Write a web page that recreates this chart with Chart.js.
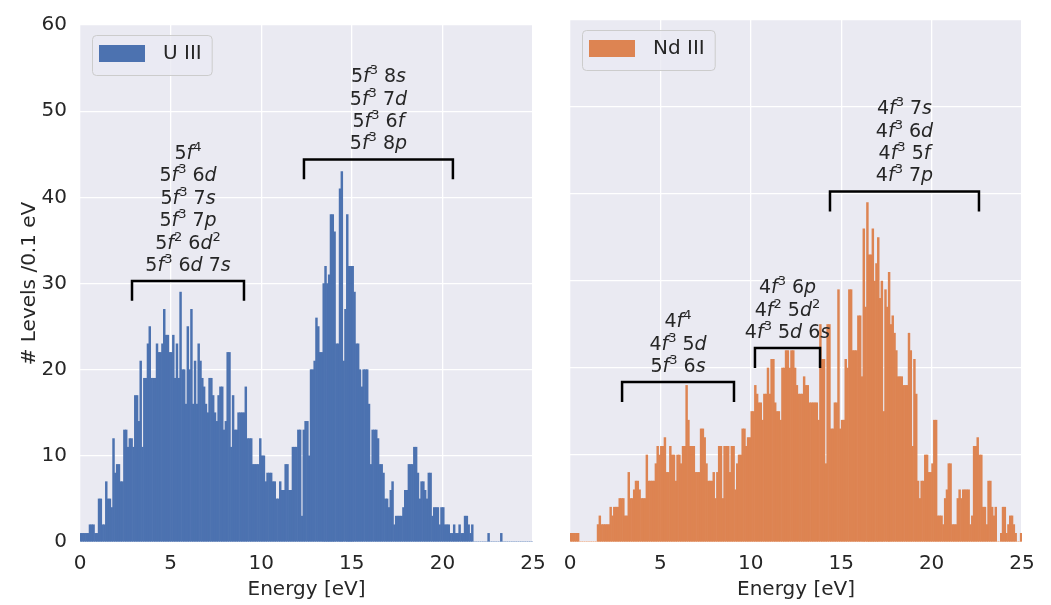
<!DOCTYPE html>
<html>
<head>
<meta charset="utf-8">
<script src="https://cdn.jsdelivr.net/npm/chart.js@4/dist/chart.umd.min.js"></script>
<style>
body{margin:0;background:#fff;width:1051px;height:605px;overflow:hidden;position:relative}
canvas{position:absolute;top:0}
#left{left:0}
#right{left:553px}
</style>
</head>
<body>
<canvas id="left" width="557" height="605"></canvas>
<canvas id="right" width="498" height="605"></canvas>
<script>
// levels per 0.1 eV bin, 0 - 25 eV
const uIII=[1,1,1,1,1,2,2,2,1,1,
5,5,2,2,7,5,5,4,12,8,
9,9,7,7,13,13,11,12,12,11,
17,17,14,21,11,19,19,23,25,19,
19,19,23,22,22,23,27,24,24,22,
22,24,19,23,19,29,20,20,16,25,
20,27,16,21,16,23,21,19,18,16,
15,19,19,17,15,14,17,18,18,13,
14,22,22,11,17,13,13,15,15,15,
15,18,12,12,12,9,9,9,9,12,
10,10,7,8,8,8,7,7,5,5,
7,6,6,9,9,6,6,11,11,11,
13,13,3,13,14,14,10,20,20,21,
26,25,22,22,30,32,30,31,38,38,
36,23,23,41,43,21,27,38,32,32,
32,29,23,23,20,18,20,20,20,16,
9,13,13,13,12,9,9,8,5,5,
4,6,7,2,3,3,3,3,4,6,
6,9,9,9,11,11,8,5,7,7,
6,5,8,8,3,4,4,4,2,4,
4,2,2,2,1,1,2,1,1,2,
1,1,3,3,2,1,2,0,0,0,
0,0,0,0,0,1,0,0,0,0,
0,0,1,0,0,0,0,0,0,0,
0,0,0,0,0,0,0,0,0,0];

const ndIII=[1,1,1,1,1,0,0,0,0,0,
0,0,0,0,0,2,3,2,2,2,
2,2,4,3,4,4,4,5,5,5,
3,3,8,5,5,6,7,7,6,5,
5,5,10,7,7,7,7,9,11,10,
11,11,12,8,8,11,10,10,7,10,
10,9,11,11,18,14,11,11,11,8,
8,8,13,13,12,9,7,7,7,8,
5,8,11,11,5,11,11,11,8,11,
11,6,9,10,10,13,13,11,12,12,
15,15,18,17,16,16,14,17,17,20,
17,21,21,16,15,15,14,20,20,22,
22,20,22,22,20,18,17,17,17,19,
18,18,16,16,16,16,16,14,25,21,
21,9,25,25,13,13,16,16,29,13,
14,14,21,20,29,29,22,22,22,26,
26,19,36,27,39,33,33,36,30,32,
35,28,30,15,29,27,31,25,26,24,
22,19,19,19,18,18,18,24,22,11,
21,17,7,5,7,7,10,10,8,8,
9,14,14,3,3,3,2,5,6,9,
9,2,2,2,5,6,5,6,6,6,
6,2,3,11,11,12,10,10,4,4,
2,7,7,4,3,4,0,0,1,4,
4,1,2,3,3,2,1,0,0,1];

const binWidth=0.1;
const xTicks=[0,5,10,15,20,25];
const yTicks=[0,10,20,30,40,50,60];

// brackets: [from eV, to eV, height]
const uBrackets=[[2.87,9.05,30.3],[12.36,20.58,44.4]];
const uLabels=[["5f^4","5f^3 6d","5f^3 7s","5f^3 7p","5f^2 6d^2","5f^3 6d 7s"],
["5f^3 8s","5f^3 7d","5f^3 6f","5f^3 8p"]];
const ndBrackets=[[2.88,9.07,18.4],[10.23,13.83,22.3],[14.38,22.62,40.3]];
const ndLabels=[["4f^4","4f^3 5d","5f^3 6s"],
["4f^3 6p","4f^2 5d^2","4f^3 5d 6s"],
["4f^3 7s","4f^3 6d","4f^3 5f","4f^3 7p"]];

const FONT="DejaVu Sans";
const TXT="#262626";

function toPoints(vals){
return vals.map((v,i)=>({x:(i+0.5)*binWidth,y:v}));
}

function parseRich(s){
let out=[];
for(let i=0;i<s.length;i++){
let c=s[i];
if(c==="^"){out.push({t:s[i+1],k:"sup"});i++;}
else if(/[a-z]/.test(c)) out.push({t:c,k:"it"});
else out.push({t:c,k:"n"});
}
return out;
}

function fontFor(k,size){
if(k==="sup") return Math.round(size*0.7)+"px "+FONT;
if(k==="it") return "italic "+size+"px "+FONT;
return size+"px "+FONT;
}

function drawRich(ctx,s,cx,y,size){
let parts=parseRich(s);
let w=0;
parts.forEach(p=>{ctx.font=fontFor(p.k,size);p.w=ctx.measureText(p.t).width;w+=p.w;});
let x=cx-w/2;
ctx.textAlign="left";
ctx.textBaseline="alphabetic";
parts.forEach(p=>{
ctx.font=fontFor(p.k,size);
ctx.fillText(p.t,x,p.k==="sup"?y-size*0.42:y);
x+=p.w;
});
}

const panelPlugin={
id:"panel",
beforeDraw(chart){
const {ctx,chartArea:a}=chart;
ctx.save();
ctx.fillStyle="#EAEAF2";
ctx.fillRect(a.left,a.top,a.right-a.left,a.bottom-a.top);
ctx.restore();
},
afterDatasetsDraw(chart,args,opts){
const {ctx,chartArea:a,scales:{x,y}}=chart;
ctx.save();
// brackets and labels
ctx.strokeStyle="#000";
ctx.lineWidth=2.5;
ctx.fillStyle=TXT;
opts.brackets.forEach((b,j)=>{
let x0=x.getPixelForValue(b[0]),x1=x.getPixelForValue(b[1]);
let yy=y.getPixelForValue(b[2]);
let drop=y.getPixelForValue(b[2]-2.3);
ctx.beginPath();
ctx.moveTo(x0,drop);ctx.lineTo(x0,yy);ctx.lineTo(x1,yy);ctx.lineTo(x1,drop);
ctx.stroke();
let lines=opts.labels[j];
let cx=(x0+x1)/2;
lines.forEach((l,k)=>{
let base=yy-10-(lines.length-1-k)*22.4;
drawRich(ctx,l,cx,base,19);
});
});
// legend
const ds=chart.data.datasets[0];
ctx.font="20px "+FONT;
let tw=ctx.measureText(ds.label).width;
let lx=a.left+12,ly=a.top+10,lw=71+tw+10,lh=40;
ctx.beginPath();
ctx.roundRect(lx+0.5,ly+0.5,lw,lh,4);
ctx.fillStyle="rgba(234,234,242,0.8)";
ctx.fill();
ctx.lineWidth=1;
ctx.strokeStyle="#cccccc";
ctx.stroke();
ctx.fillStyle=ds.backgroundColor;
ctx.fillRect(lx+7,ly+10,46,17);
ctx.fillStyle=TXT;
ctx.textAlign="left";
ctx.textBaseline="middle";
ctx.fillText(ds.label,lx+71,ly+19);
ctx.restore();
}
};

function makeChart(id,label,vals,color,brackets,labels,left){
return new Chart(document.getElementById(id),{
type:"bar",
data:{datasets:[{label:label,data:toPoints(vals),backgroundColor:color,borderWidth:0,barPercentage:1,categoryPercentage:1}]},
options:{
responsive:false,
animation:false,
events:[],
layout:{padding:{top:20,right:left?24:29,left:0,bottom:0}},
plugins:{legend:{display:false},tooltip:{enabled:false},panel:{brackets:brackets,labels:labels}},
scales:{
x:{type:"linear",min:0,max:25,offset:false,
afterBuildTicks:s=>{s.ticks=xTicks.map(v=>({value:v}));},
ticks:{color:TXT,font:{size:20,family:FONT},padding:10,maxRotation:0},
grid:{color:"#fff",lineWidth:1.3,drawTicks:false,offset:false},
border:{display:false},
title:{display:true,text:"Energy [eV]",color:TXT,font:{size:20,family:FONT},padding:{top:0,bottom:3}},
afterFit:s=>{s.height=63;}
},
y:{min:0,max:60,
afterBuildTicks:s=>{s.ticks=yTicks.map(v=>({value:v}));},
ticks:{display:left,color:TXT,font:{size:20,family:FONT},padding:13},
grid:{color:"#fff",lineWidth:1.3,drawTicks:false},
border:{display:false},
title:{display:left,text:"# Levels /0.1 eV",color:TXT,font:{size:20,family:FONT},padding:{top:18,bottom:0}},
afterFit:s=>{s.width=left?80:17;}
}
}
},
plugins:[panelPlugin]
});
}

makeChart("left","U III",uIII,"#4C72B0",uBrackets,uLabels,true);
makeChart("right","Nd III",ndIII,"#DD8452",ndBrackets,ndLabels,false);
</script>
</body>
</html>
